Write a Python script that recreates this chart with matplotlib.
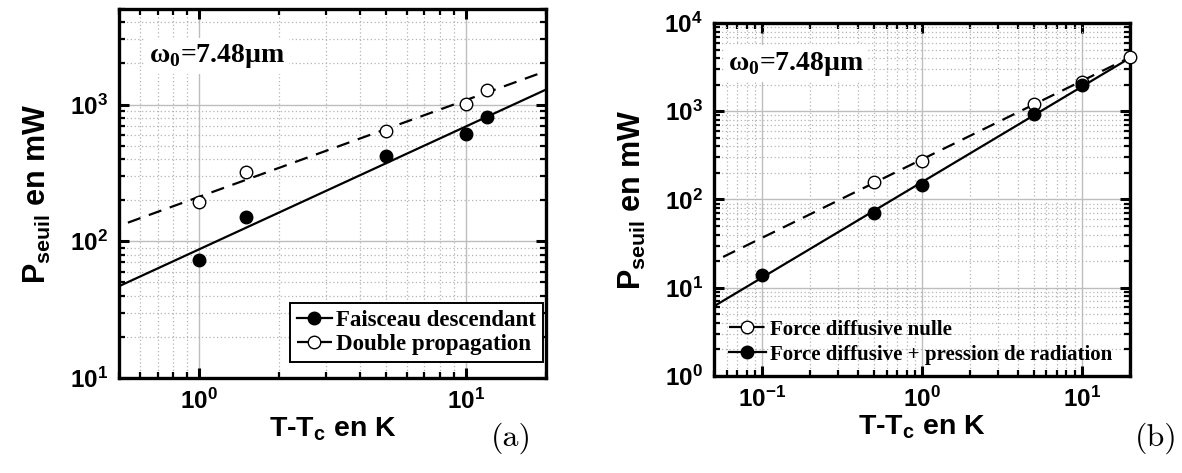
import matplotlib
matplotlib.use('Agg')
import matplotlib.pyplot as plt
import numpy as np
from matplotlib.ticker import FixedLocator, LogLocator, NullFormatter, FuncFormatter

plt.rcParams['mathtext.fontset'] = 'custom'
plt.rcParams['mathtext.rm'] = 'Liberation Sans:bold'
plt.rcParams['mathtext.it'] = 'Liberation Sans:bold'
plt.rcParams['mathtext.bf'] = 'Liberation Sans:bold'
plt.rcParams['mathtext.sf'] = 'Liberation Serif:bold'
plt.rcParams['mathtext.default'] = 'bf'

# panel (a)
dT_a = [1, 1.5, 5, 10, 12]
p_desc = [73, 150, 417, 614, 817]
p_double = [193, 319, 645, 1016, 1285]
# panel (b)
dT_rad = [0.1, 0.5, 1, 5, 10]
p_rad = [14, 70, 147, 925, 1960]
dT_null = [0.5, 1, 5, 10, 20]
p_null = [159, 274, 1200, 2170, 4150]

labels_a = ['Faisceau descendant', 'Double propagation']
labels_b = ['Force diffusive nulle', 'Force diffusive + pression de radiation']


def powerfit(x, y, x0, x1):
    k, b = np.polyfit(np.log10(x), np.log10(y), 1)
    xs = np.array([x0, x1])
    return xs, 10 ** (b + k * np.log10(xs))


def style_axis(ax, xlim, ylim, xdec, ydec):
    ax.set_xscale('log')
    ax.set_yscale('log')
    ax.set_xlim(*xlim)
    ax.set_ylim(*ylim)
    ax.xaxis.set_major_locator(FixedLocator([10.0 ** d for d in xdec]))
    ax.yaxis.set_major_locator(FixedLocator([10.0 ** d for d in ydec]))
    ax.xaxis.set_minor_locator(LogLocator(base=10, subs=np.arange(2, 10), numticks=20))
    ax.yaxis.set_minor_locator(LogLocator(base=10, subs=np.arange(2, 10), numticks=20))
    fmt = FuncFormatter(lambda v, p: r'$10^{%d}$' % int(round(np.log10(v))))
    ax.xaxis.set_major_formatter(fmt)
    ax.yaxis.set_major_formatter(fmt)
    ax.xaxis.set_minor_formatter(NullFormatter())
    ax.yaxis.set_minor_formatter(NullFormatter())
    ax.tick_params(which='both', direction='in', top=True, right=True, labelsize=17.5)
    ax.tick_params(which='major', length=7, width=2.2)
    ax.tick_params(which='minor', length=4, width=1.6)
    ax.tick_params(axis='x', which='major', pad=8)
    ax.tick_params(axis='y', which='major', pad=8)
    ax.grid(True, which='major', color='#bdbdbd', lw=1.0, ls='-')
    ax.grid(True, which='minor', color='#b4b4b4', lw=0.9, ls=(0, (1, 2)))
    ax.set_axisbelow(True)
    for s in ax.spines.values():
        s.set_linewidth(2.4)
    ax.set_xlabel(r'T-T$_{c}$ en K', family='Liberation Sans', weight='bold', fontsize=20.5, labelpad=1)
    ax.set_ylabel(r'P$_{seuil}$ en mW', family='Liberation Sans', weight='bold', fontsize=22, labelpad=12)


fig = plt.figure(figsize=(11.82, 4.73), dpi=100)
ax1 = fig.add_axes([119 / 1182, 1 - 378 / 473, 427 / 1182, 369 / 473])
ax2 = fig.add_axes([714 / 1182, 1 - 376 / 473, 416 / 1182, 353 / 473])

# (a)
style_axis(ax1, (0.5, 20), (10, 5000), [0, 1], [1, 2, 3])
xs, ys = powerfit(dT_a, p_desc, 0.5, 20)
l1, = ax1.plot(xs, ys, 'k-', lw=1.6)
xs, ys = powerfit(dT_a, p_double, 0.54, 20)
l2, = ax1.plot(xs, ys, 'k--', lw=1.6, dashes=(6, 4))
m1, = ax1.plot(dT_a, p_desc, 'o', color='k', ms=9, ls='none', zorder=4)
m2, = ax1.plot(dT_a, p_double, 'o', mfc='white', mec='k', mew=1.0, ms=9, ls='none', zorder=4)
leg = ax1.legend([(l1, m1), (l2, m2)], labels_a, loc='lower right',
                 bbox_to_anchor=(0.993, 0.043), borderaxespad=0,
                 prop={'family': 'Liberation Serif', 'weight': 'bold', 'size': 16.5},
                 fancybox=False, edgecolor='k', framealpha=1, handlelength=1.5,
                 handletextpad=0.2, borderpad=0.3, labelspacing=0.15)
leg.get_frame().set_linewidth(1.4)
ax1.text(0.07, 0.872, 'ω$_\\mathsf{0}$=7.48µm', transform=ax1.transAxes,
         family='Liberation Serif', weight='bold', fontsize=20, va='center',
         bbox=dict(fc='white', ec='none', pad=3))

# (b)
style_axis(ax2, (0.05, 20), (1, 10000), [-1, 0, 1], [0, 1, 2, 3, 4])
xs, ys = powerfit(dT_null, p_null, 0.057, 20)
l3, = ax2.plot(xs, ys, 'k--', lw=1.6, dashes=(6, 4))
xs, ys = powerfit(dT_rad, p_rad, 0.05, 20)
l4, = ax2.plot(xs, ys, 'k-', lw=1.6)
m3, = ax2.plot(dT_null, p_null, 'o', mfc='white', mec='k', mew=1.0, ms=9, ls='none', zorder=4, clip_on=False)
m4, = ax2.plot(dT_rad, p_rad, 'o', color='k', ms=9, ls='none', zorder=5)
ax2.legend([(l3, m3), (l4, m4)], labels_b, loc='lower left',
           bbox_to_anchor=(0.025, 0.02), borderaxespad=0, frameon=False,
           prop={'family': 'Liberation Serif', 'weight': 'bold', 'size': 15},
           handlelength=1.8, handletextpad=0.2, borderpad=0.2, labelspacing=0.25)
ax2.text(0.034, 0.885, 'ω$_\\mathsf{0}$=7.48µm', transform=ax2.transAxes,
         family='Liberation Serif', weight='bold', fontsize=20, va='center',
         bbox=dict(fc='white', ec='none', pad=3))

fig.text(532 / 1182, 1 - 438 / 473, '(a)', family='cmr10', fontsize=23, ha='right', va='center')
fig.text(1178 / 1182, 1 - 438 / 473, '(b)', family='cmr10', fontsize=23, ha='right', va='center')

fig.savefig('out.png', dpi=100)
